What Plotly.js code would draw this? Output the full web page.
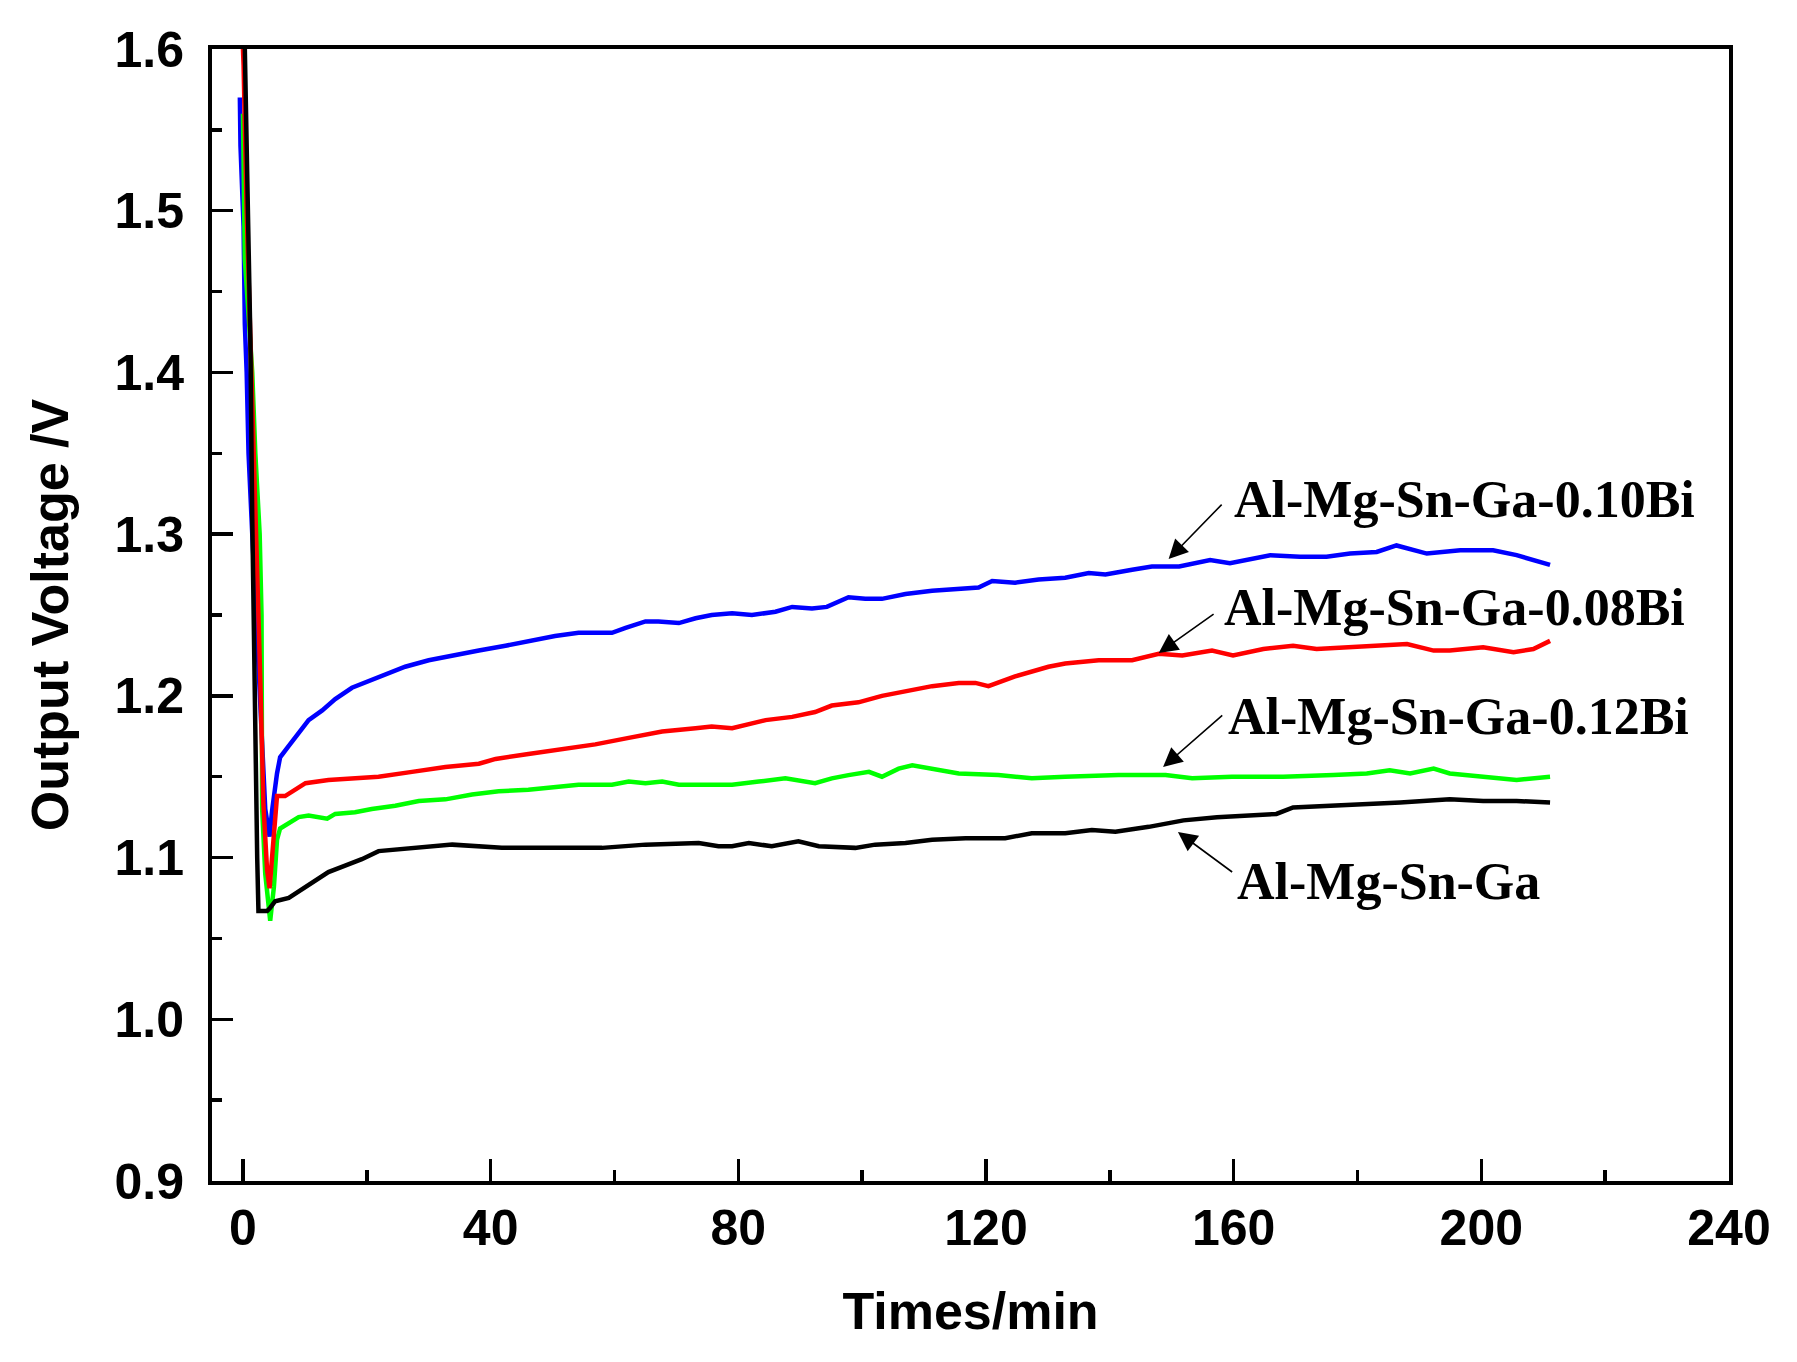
<!DOCTYPE html>
<html>
<head>
<meta charset="utf-8">
<script src="https://cdn.plot.ly/plotly-3.0.1.min.js"></script>
<style>
  html, body { margin: 0; padding: 0; background: #fff; }
  #myDiv { width: 1797px; height: 1362px; }
</style>
</head>
<body>
<div id="myDiv"></div>
<script>
// Al-Mg-Sn-Ga (black)
var tBase = [0.2, 0.4, 0.8, 1.2, 1.5, 1.8, 2.1, 2.3, 2.5, 3.9,
    4.4, 5.2, 7.4, 9.5, 11.7, 13.8, 16.5, 19.2, 21.9, 24.6,
    30, 33.8, 41.8, 48.8, 58, 65, 73.6, 76.8, 79, 81.7,
    85.4, 89.7, 93, 98.9, 102.1, 107, 111.3, 116.7, 123.1, 127.4,
    132.8, 137.1, 140.9, 146.3, 151.9, 157.3, 162.6, 166.9, 169.6, 176.1,
    181.5, 186.9, 194.9, 200.3, 205.7, 211.1];
var vBase = [1.62, 1.58, 1.51, 1.42, 1.31, 1.21, 1.16, 1.10, 1.067, 1.067,
    1.069, 1.073, 1.075, 1.080, 1.086, 1.091, 1.095, 1.099, 1.104, 1.105,
    1.107, 1.108, 1.106, 1.106, 1.106, 1.108, 1.109, 1.107, 1.107, 1.109,
    1.107, 1.110, 1.107, 1.106, 1.108, 1.109, 1.111, 1.112, 1.112, 1.115,
    1.115, 1.117, 1.116, 1.119, 1.123, 1.125, 1.126, 1.127, 1.131, 1.132,
    1.133, 1.134, 1.136, 1.135, 1.135, 1.134];

// Al-Mg-Sn-Ga-0.08Bi (red)
var t008 = [0, 0.1, 0.6, 1.2, 1.9, 2.1, 2.8, 3.3, 3.9, 4.3,
    5.0, 5.5, 6.8, 8.5, 10.1, 13.8, 17.6, 21.9, 27.3, 32.7,
    38.1, 40.8, 46.1, 51.5, 56.9, 62.3, 67.7, 73.1, 75.7, 79,
    84.4, 88.7, 92.4, 95.1, 99.4, 103.2, 107.5, 111.3, 115.6, 118.3,
    120.4, 124.7, 130.1, 132.8, 138.2, 143.6, 147.9, 151.7, 156.5, 159.9,
    164.8, 169.6, 173.4, 178.8, 184.2, 188, 192.3, 194.9, 200.3, 205.2,
    208.4, 211.1];
var v008 = [1.60, 1.59, 1.50, 1.42, 1.35, 1.31, 1.21, 1.133, 1.092, 1.081,
    1.113, 1.138, 1.138, 1.142, 1.146, 1.148, 1.149, 1.150, 1.153, 1.156,
    1.158, 1.161, 1.164, 1.167, 1.170, 1.174, 1.178, 1.180, 1.181, 1.180,
    1.185, 1.187, 1.190, 1.194, 1.196, 1.200, 1.203, 1.206, 1.208, 1.208,
    1.206, 1.212, 1.218, 1.220, 1.222, 1.222, 1.226, 1.225, 1.228, 1.225,
    1.229, 1.231, 1.229, 1.230, 1.231, 1.232, 1.228, 1.228, 1.230, 1.227,
    1.229, 1.234];

// Al-Mg-Sn-Ga-0.10Bi (blue)
var t010 = [-0.5, -0.4, 0.1, 0.3, 0.6, 0.9, 1.5, 2.5, 3.2, 3.6,
    4.3, 4.7, 5.5, 6.0, 7.4, 9.0, 10.6, 12.8, 14.9, 17.6,
    20.3, 23.5, 26.2, 30, 33.8, 38.1, 42.4, 46.1, 50.4, 54.2,
    59.6, 61.8, 65, 67.1, 70.4, 73.1, 75.7, 79, 82.2, 86,
    88.7, 91.9, 94.3, 97.8, 100.5, 103.2, 107, 111.3, 116.7, 118.8,
    121, 124.7, 128.5, 132.8, 136.6, 139.3, 143.6, 146.8, 151.2, 156.2,
    159.4, 165.9, 170.7, 175, 178.8, 183.1, 186.3, 188.5, 191.2, 196.6,
    201.9, 205.7, 208.4, 211.1];
var v010 = [1.57, 1.54, 1.49, 1.43, 1.40, 1.35, 1.30, 1.22, 1.16, 1.13,
    1.113, 1.129, 1.152, 1.162, 1.169, 1.177, 1.185, 1.191, 1.198, 1.205,
    1.209, 1.214, 1.218, 1.222, 1.225, 1.228, 1.231, 1.234, 1.237, 1.239,
    1.239, 1.242, 1.246, 1.246, 1.245, 1.248, 1.250, 1.251, 1.250, 1.252,
    1.255, 1.254, 1.255, 1.261, 1.260, 1.260, 1.263, 1.265, 1.266, 1.267,
    1.271, 1.270, 1.272, 1.273, 1.276, 1.275, 1.278, 1.280, 1.280, 1.284,
    1.282, 1.287, 1.286, 1.286, 1.288, 1.289, 1.293, 1.291, 1.288, 1.290,
    1.290, 1.287, 1.284, 1.281];

// Al-Mg-Sn-Ga-0.12Bi (green)
var t012 = [0, 0.3, 1.0, 1.5, 2.0, 2.7, 3.0, 3.1, 3.6, 4.4,
    5.0, 5.5, 6.0, 7.4, 9.0, 10.6, 12.2, 13.6, 14.9, 18.1,
    20.8, 24.6, 28.4, 32.7, 37, 41.3, 46.1, 51, 54.2, 59.6,
    62.3, 65, 67.7, 70.4, 79, 83.3, 87.6, 92.4, 95.1, 97.8,
    101.1, 103.2, 105.9, 108.1, 111.3, 115.6, 122, 127.4, 132.8, 141.4,
    149, 153.3, 159.7, 168, 176.1, 181.5, 185.2, 188.5, 192.3, 194.9,
    200.3, 205.7, 211.1];
var v012 = [1.56, 1.47, 1.43, 1.40, 1.35, 1.30, 1.25, 1.13, 1.09, 1.061,
    1.082, 1.111, 1.118, 1.121, 1.125, 1.126, 1.125, 1.124, 1.127, 1.128,
    1.130, 1.132, 1.135, 1.136, 1.139, 1.141, 1.142, 1.144, 1.145, 1.145,
    1.147, 1.146, 1.147, 1.145, 1.145, 1.147, 1.149, 1.146, 1.149, 1.151,
    1.153, 1.150, 1.155, 1.157, 1.155, 1.152, 1.151, 1.149, 1.150, 1.151,
    1.151, 1.149, 1.150, 1.150, 1.151, 1.152, 1.154, 1.152, 1.155, 1.152,
    1.150, 1.148, 1.150];

var names = ['Al-Mg-Sn-Ga-0.10Bi', 'Al-Mg-Sn-Ga-0.12Bi', 'Al-Mg-Sn-Ga-0.08Bi', 'Al-Mg-Sn-Ga'];

var lineW = 4.5;
var data = [
  {x: t010, y: v010, name: names[0], mode: 'lines', type: 'scatter', line: {color: '#0000ff', width: lineW}},
  {x: t012, y: v012, name: names[1], mode: 'lines', type: 'scatter', line: {color: '#00ff00', width: lineW}},
  {x: t008, y: v008, name: names[2], mode: 'lines', type: 'scatter', line: {color: '#ff0000', width: lineW}},
  {x: tBase, y: vBase, name: names[3], mode: 'lines', type: 'scatter', line: {color: '#000000', width: lineW}}
];

var tickFont = {family: 'Liberation Sans, Arial, sans-serif', size: 50, color: '#000', weight: 'bold'};
var titleFont = {family: 'Liberation Sans, Arial, sans-serif', size: 52, color: '#000', weight: 'bold'};
var labelFont = {family: 'Liberation Serif, Times New Roman, serif', size: 52, color: '#000', weight: 'bold'};

// label text: [text, x, y]  arrow: [headX, headY, tailX, tailY]
var labels = [
  [names[0], 159.7, 1.3217, 149.5, 1.2846, 158.3, 1.3192],
  [names[2], 158.1, 1.2549, 147.9, 1.2265, 157.0, 1.2512],
  [names[1], 158.8, 1.1875, 148.6, 1.1560, 158.4, 1.1887],
  [names[3], 160.2, 1.0855, 151.0, 1.1158, 160.0, 1.0904]
];

var annotations = [];
labels.forEach(function (l) {
  annotations.push({
    x: l[1], y: l[2], xref: 'x', yref: 'y', text: l[0],
    showarrow: false, xanchor: 'left', yanchor: 'middle', font: labelFont
  });
  annotations.push({
    x: l[3], y: l[4], xref: 'x', yref: 'y', ax: l[5], ay: l[6], axref: 'x', ayref: 'y',
    text: '', showarrow: true, arrowhead: 2, arrowsize: 2.4, arrowwidth: 1.6, arrowcolor: '#000'
  });
});

var layout = {
  width: 1797,
  height: 1362,
  margin: {l: 212, r: 68, t: 49, b: 181},
  paper_bgcolor: '#fff',
  plot_bgcolor: '#fff',
  showlegend: false,
  xaxis: {
    range: [-5, 240],
    dtick: 40, tick0: 0,
    ticks: 'inside', ticklen: 22, tickwidth: 3.5, tickcolor: '#000',
    minor: {dtick: 20, ticks: 'inside', ticklen: 11, tickwidth: 3.5, tickcolor: '#000'},
    showline: true, linewidth: 4, linecolor: '#000', mirror: true,
    showgrid: false, zeroline: false,
    tickfont: tickFont,
    ticklabelstandoff: 0,
    title: {text: 'Times/min', font: titleFont, standoff: 39}
  },
  yaxis: {
    range: [0.9, 1.6],
    dtick: 0.1, tick0: 0.9, tickformat: '.1f',
    ticks: 'inside', ticklen: 21, tickwidth: 3.5, tickcolor: '#000',
    minor: {dtick: 0.05, ticks: 'inside', ticklen: 10, tickwidth: 3.5, tickcolor: '#000'},
    showline: true, linewidth: 4, linecolor: '#000', mirror: true,
    showgrid: false, zeroline: false,
    tickfont: tickFont,
    ticklabelstandoff: 14,
    title: {text: 'Output Voltage /V', font: titleFont, standoff: 30}
  },
  annotations: annotations
};

Plotly.newPlot('myDiv', data, layout, {staticPlot: true});
</script>
</body>
</html>
